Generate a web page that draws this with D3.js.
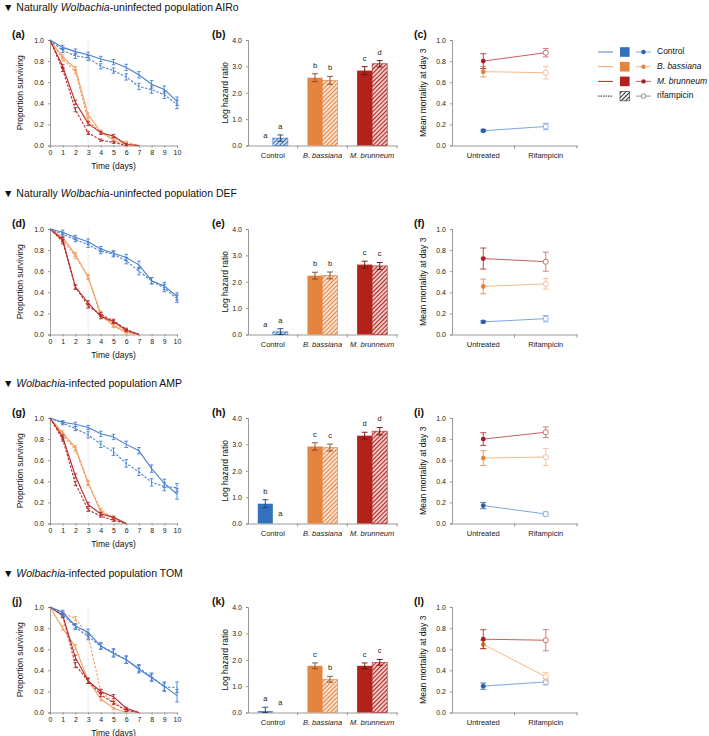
<!DOCTYPE html>
<html>
<head>
<meta charset="utf-8">
<script src="https://cdn.jsdelivr.net/npm/d3@7"></script>
<style>
  body { margin: 0; background: #fff; }
  svg { font-family: "Liberation Sans", Arial, Helvetica, sans-serif; }
</style>
</head>
<body>
<svg id="fig" width="709" height="736"></svg>
<script>
// ---- data ----
var days = [0, 1, 2, 3, 4, 5, 6, 7, 8, 9, 10];
var populations = ["AIRo", "DEF", "AMP", "TOM"];
var titlePrefix = ["Naturally ", "Naturally ", "", ""];
var panelLetters = [["(a)", "(b)", "(c)"], ["(d)", "(e)", "(f)"], ["(g)", "(h)", "(i)"], ["(j)", "(k)", "(l)"]];
var treatments = ["Control", "B. bassiana", "M. brunneum"];
var doses = ["Untreated", "Rifampicin"];
var survTicks = [0, 0.2, 0.4, 0.6, 0.8, 1.0];
var hazardTicks = [0, 1, 2, 3, 4];
var mortTicks = [0, 0.2, 0.4, 0.6, 0.8, 1.0];

// survival curves, order: control, control+rif, Bb, Bb+rif, Mb, Mb+rif
var survAIRo = [
  [1, 0.93, 0.89, 0.86, 0.82, 0.79, 0.74, 0.67, 0.58, 0.53, 0.42],
  [1, 0.90, 0.85, 0.83, 0.75, 0.71, 0.65, 0.56, 0.53, 0.48, 0.39],
  [1, 0.84, 0.73, 0.29, 0.13, 0.05, 0.01, 0],
  [1, 0.82, 0.70, 0.24, 0.12, 0.07, 0.03, 0],
  [1, 0.75, 0.41, 0.21, 0.12, 0.09, 0.01, 0],
  [1, 0.72, 0.34, 0.12, 0.05, 0.03, 0]
];
var errAIRo = [
  [0, 0.02, 0.025, 0.025, 0.025, 0.025, 0.03, 0.03, 0.035, 0.035, 0.04],
  [0, 0.02, 0.025, 0.025, 0.025, 0.025, 0.03, 0.03, 0.035, 0.035, 0.04],
  [0, 0.02, 0.02, 0.02, 0.015, 0.015, 0.01, 0],
  [0, 0.02, 0.02, 0.02, 0.015, 0.015, 0.01, 0],
  [0, 0.02, 0.02, 0.02, 0.015, 0.015, 0.01, 0],
  [0, 0.02, 0.02, 0.015, 0.01, 0.01, 0]
];
var survDEF = [
  [1, 0.97, 0.92, 0.88, 0.81, 0.77, 0.73, 0.66, 0.51, 0.46, 0.36],
  [1, 0.95, 0.90, 0.85, 0.79, 0.76, 0.70, 0.60, 0.51, 0.44, 0.34],
  [1, 0.92, 0.76, 0.54, 0.20, 0.08, 0.02, 0],
  [1, 0.90, 0.74, 0.55, 0.17, 0.09, 0.03, 0],
  [1, 0.90, 0.45, 0.30, 0.17, 0.12, 0.04, 0],
  [1, 0.88, 0.45, 0.27, 0.19, 0.13, 0.05, 0]
];
var errDEF = [
  [0, 0.02, 0.02, 0.025, 0.025, 0.025, 0.03, 0.035, 0.03, 0.035, 0.035],
  [0, 0.02, 0.02, 0.025, 0.025, 0.025, 0.03, 0.035, 0.03, 0.035, 0.035],
  [0, 0.02, 0.02, 0.02, 0.02, 0.015, 0.01, 0],
  [0, 0.02, 0.02, 0.02, 0.02, 0.015, 0.01, 0],
  [0, 0.02, 0.02, 0.02, 0.02, 0.015, 0.01, 0],
  [0, 0.02, 0.02, 0.02, 0.02, 0.015, 0.01, 0]
];
var survAMP = [
  [1, 0.96, 0.94, 0.91, 0.85, 0.82, 0.75, 0.69, 0.52, 0.38, 0.28],
  [1, 0.95, 0.90, 0.84, 0.75, 0.68, 0.57, 0.49, 0.39, 0.35, 0.34],
  [1, 0.86, 0.72, 0.39, 0.11, 0.05, 0],
  [1, 0.84, 0.70, 0.38, 0.13, 0.05, 0],
  [1, 0.82, 0.45, 0.18, 0.09, 0.06, 0],
  [1, 0.80, 0.38, 0.13, 0.07, 0.03, 0]
];
var errAMP = [
  [0, 0.015, 0.02, 0.02, 0.025, 0.025, 0.03, 0.03, 0.035, 0.04, 0.05],
  [0, 0.015, 0.02, 0.03, 0.03, 0.035, 0.035, 0.035, 0.035, 0.04, 0.04],
  [0, 0.02, 0.02, 0.02, 0.015, 0.01, 0],
  [0, 0.02, 0.02, 0.02, 0.015, 0.01, 0],
  [0, 0.02, 0.02, 0.02, 0.015, 0.01, 0],
  [0, 0.02, 0.02, 0.015, 0.01, 0.01, 0]
];
var survTOM = [
  [1, 0.95, 0.82, 0.76, 0.63, 0.56, 0.50, 0.41, 0.33, 0.25, 0.16],
  [1, 0.93, 0.81, 0.72, 0.63, 0.57, 0.50, 0.42, 0.34, 0.24, 0.24],
  [1, 0.80, 0.62, 0.30, 0.13, 0.04, 0],
  [1, 0.94, 0.89, 0.73, 0.20, 0.10, 0.02, 0],
  [1, 0.92, 0.52, 0.30, 0.20, 0.15, 0.04, 0],
  [1, 0.92, 0.45, 0.30, 0.17, 0.09, 0.02, 0]
];
var errTOM = [
  [0, 0.02, 0.025, 0.03, 0.03, 0.035, 0.035, 0.035, 0.035, 0.04, 0.06],
  [0, 0.02, 0.025, 0.03, 0.03, 0.035, 0.035, 0.035, 0.035, 0.04, 0.05],
  [0, 0.02, 0.025, 0.025, 0.02, 0.01, 0],
  [0, 0.02, 0.02, 0.025, 0.02, 0.015, 0.01, 0],
  [0, 0.02, 0.025, 0.025, 0.02, 0.02, 0.01, 0],
  [0, 0.02, 0.025, 0.025, 0.02, 0.015, 0.01, 0]
];

// log hazard ratio [untreated, rifampicin] per treatment
var hazAIRo = [[0, 0.28], [2.57, 2.47], [2.84, 3.10]];
var hazErrAIRo = [[0, 0.12], [0.15, 0.15], [0.15, 0.12]];
var hazLetAIRo = [["a", "a"], ["b", "b"], ["c", "d"]];
var hazDEF = [[0, 0.10], [2.23, 2.24], [2.65, 2.60]];
var hazErrDEF = [[0, 0.12], [0.13, 0.13], [0.13, 0.13]];
var hazLetDEF = [["a", "a"], ["b", "b"], ["c", "c"]];
var hazAMP = [[0.75, 0], [2.92, 2.88], [3.33, 3.50]];
var hazErrAMP = [[0.15, 0], [0.14, 0.13], [0.13, 0.14]];
var hazLetAMP = [["b", "a"], ["c", "c"], ["d", "d"]];
var hazTOM = [[0.05, 0], [1.77, 1.26], [1.77, 1.90]];
var hazErrTOM = [[0.15, 0], [0.11, 0.11], [0.11, 0.11]];
var hazLetTOM = [["a", "a"], ["c", "b"], ["c", "c"]];

// mean mortality at day 3 [untreated, rifampicin] per treatment
var mortAIRo = [[0.14, 0.18], [0.70, 0.69], [0.80, 0.88]];
var mortErrAIRo = [[0.01, 0.03], [0.05, 0.06], [0.07, 0.04]];
var mortDEF = [[0.12, 0.15], [0.455, 0.48], [0.72, 0.69]];
var mortErrDEF = [[0.01, 0.03], [0.07, 0.05], [0.10, 0.09]];
var mortAMP = [[0.17, 0.09], [0.62, 0.63], [0.80, 0.865]];
var mortErrAMP = [[0.03, 0.02], [0.07, 0.08], [0.06, 0.05]];
var mortTOM = [[0.25, 0.29], [0.645, 0.34], [0.695, 0.685]];
var mortErrTOM = [[0.03, 0.03], [0.04, 0.04], [0.09, 0.10]];

var survAll = [survAIRo, survDEF, survAMP, survTOM];
var errAll = [errAIRo, errDEF, errAMP, errTOM];
var hazAll = [hazAIRo, hazDEF, hazAMP, hazTOM];
var hazErrAll = [hazErrAIRo, hazErrDEF, hazErrAMP, hazErrTOM];
var hazLetAll = [hazLetAIRo, hazLetDEF, hazLetAMP, hazLetTOM];
var mortAll = [mortAIRo, mortDEF, mortAMP, mortTOM];
var mortErrAll = [mortErrAIRo, mortErrDEF, mortErrAMP, mortErrTOM];

// ---- styles ----
var FONT = '"Liberation Sans", Arial, Helvetica, sans-serif';
var barColors = ["#3371bf", "#e4843f", "#b3211b"];
var curveColors = ["#4a80d2", "#f2a064", "#b8282a"];
var lineColors = ["#7ea6e2", "#f6b88e", "#cb5f5f"];
var markColors = ["#2c5fab", "#e5823f", "#a91c1c"];
var axisGray = "#808080";

var svg = d3.select("#fig");
var rowStep = 189;
var plotTop = 40, plotBottom = 145.5;
var titleY = [11, 197, 387, 577];

// scales
var xSurv = d3.scaleLinear().domain([0, 10]).range([50, 177]);
var ySurv = d3.scaleLinear().domain([0, 1]).range([plotBottom, plotTop]);
var xBar = d3.scaleBand().domain(treatments).range([248, 397]);
var xBarIn = d3.scaleBand().domain(doses).range([0, xBar.bandwidth()]).paddingOuter(0.65);
var yBar = d3.scaleLinear().domain([0, 4]).range([plotBottom, plotTop]);
var xMort = d3.scaleBand().domain(doses).range([452, 577]);
var yMort = d3.scaleLinear().domain([0, 1]).range([plotBottom, plotTop]);

// hatch patterns
var defs = svg.append("defs");
function addHatch(id, col, bg) {
  var p = defs.append("pattern").attr("id", id)
    .attr("patternUnits", "userSpaceOnUse").attr("width", 3).attr("height", 3)
    .attr("patternTransform", "rotate(45)");
  p.append("rect").attr("width", 3).attr("height", 3).attr("fill", bg);
  p.append("line").attr("x1", 0.5).attr("y1", 0).attr("x2", 0.5).attr("y2", 3)
    .attr("stroke", col).attr("stroke-width", 1.1);
}
barColors.forEach(function(c, i) {
  addHatch("hatch" + i, c, d3.interpolateRgb("#ffffff", c)(0.22));
});
addHatch("hatchK", "#333", "#fff");

function styleAxis(g) {
  g.attr("font-family", FONT).attr("font-size", 7);
  g.selectAll(".domain").attr("stroke", axisGray).attr("stroke-width", 0.8);
  g.selectAll(".tick line").attr("stroke", axisGray).attr("stroke-width", 0.8);
  g.selectAll(".tick text").attr("fill", "#222");
}

function yTitle(g, x, txt) {
  g.append("text")
    .attr("transform", "translate(" + x + "," + ((plotTop + plotBottom) / 2) + ") rotate(-90)")
    .attr("text-anchor", "middle").attr("dominant-baseline", "middle")
    .attr("font-size", 8.5).attr("fill", "#111").text(txt);
}

function errBar(g, x, y0, y1, half, col, w) {
  g.append("line").attr("x1", x).attr("x2", x).attr("y1", y0).attr("y2", y1)
    .attr("stroke", col).attr("stroke-width", w);
  [y0, y1].forEach(function(yy) {
    g.append("line").attr("x1", x - half).attr("x2", x + half).attr("y1", yy).attr("y2", yy)
      .attr("stroke", col).attr("stroke-width", w);
  });
}

populations.forEach(function(pop, r) {
  var row = svg.append("g").attr("transform", "translate(0," + (r * rowStep) + ")");

  // title
  var t = svg.append("text").attr("x", 3).attr("y", titleY[r])
    .attr("font-size", 10.5).attr("fill", "#111");
  t.append("tspan").text("\u25BC " + titlePrefix[r]);
  t.append("tspan").attr("font-style", "italic").text("Wolbachia");
  t.append("tspan").text("-uninfected population " + pop);
  if (r >= 2) t.select("tspan:last-child").text("-infected population " + pop);

  // panel labels
  [12, 212, 414].forEach(function(x, k) {
    row.append("text").attr("x", x).attr("y", plotTop - 2)
      .attr("font-size", 10.5).attr("font-weight", "bold").attr("fill", "#111")
      .text(panelLetters[r][k]);
  });

  // ---- survival panel ----
  var gs = row.append("g");
  gs.append("line").attr("x1", xSurv(3)).attr("x2", xSurv(3))
    .attr("y1", plotTop).attr("y2", plotBottom).attr("stroke", "#e8e8e8").attr("stroke-width", 0.8);
  var ax = gs.append("g").attr("transform", "translate(0," + plotBottom + ")")
    .call(d3.axisBottom(xSurv).tickValues(days).tickFormat(d3.format("d")).tickSize(2).tickPadding(3));
  styleAxis(ax);
  var ay = gs.append("g").attr("transform", "translate(" + xSurv(0) + ",0)")
    .call(d3.axisLeft(ySurv).tickValues(survTicks).tickFormat(d3.format(".1f")).tickSize(2).tickPadding(4));
  styleAxis(ay);
  yTitle(gs, 21, "Proportion surviving");
  gs.append("text").attr("x", (xSurv(0) + xSurv(10)) / 2).attr("y", plotBottom + 23)
    .attr("text-anchor", "middle").attr("font-size", 8.5).attr("fill", "#111").text("Time (days)");

  var line = d3.line().x(function(d, i) { return xSurv(days[i]); }).y(function(d) { return ySurv(d); });
  // draw pathogens first, control on top
  [2, 3, 4, 5, 0, 1].forEach(function(s) {
    var col = curveColors[Math.floor(s / 2)];
    var vals = survAll[r][s], errs = errAll[r][s];
    gs.append("path").attr("d", line(vals)).attr("fill", "none")
      .attr("stroke", col).attr("stroke-width", 1.1)
      .attr("stroke-dasharray", s % 2 ? "2.5,1.5" : null);
    vals.forEach(function(v, i) {
      if (errs[i] > 0) errBar(gs, xSurv(days[i]), ySurv(v - errs[i]), ySurv(v + errs[i]), 1.8, col, 0.9);
    });
  });

  // ---- hazard bar panel ----
  var gb = row.append("g");
  var axb = gb.append("g").attr("transform", "translate(0," + plotBottom + ")")
    .call(d3.axisBottom(xBar).tickSize(0).tickPadding(7));
  styleAxis(axb);
  axb.selectAll(".tick text").attr("font-size", 7.5)
    .attr("font-style", function(d) { return d === "Control" ? "normal" : "italic"; });
  treatments.slice(1).concat([null]).forEach(function(d) {
    var x = d ? xBar(d) : xBar.range()[1];
    axb.append("line").attr("x1", x).attr("x2", x).attr("y1", 0).attr("y2", 3)
      .attr("stroke", axisGray).attr("stroke-width", 0.8);
  });
  var ayb = gb.append("g").attr("transform", "translate(" + xBar.range()[0] + ",0)")
    .call(d3.axisLeft(yBar).tickValues(hazardTicks).tickFormat(d3.format(".1f")).tickSize(2).tickPadding(4));
  styleAxis(ayb);
  yTitle(gb, 226, "Log hazard ratio");

  treatments.forEach(function(tr, ti) {
    doses.forEach(function(ds, di) {
      var v = hazAll[r][ti][di], e = hazErrAll[r][ti][di];
      var x0 = xBar(tr) + xBarIn(ds), bw = xBarIn.bandwidth();
      if (v > 0) {
        gb.append("rect").attr("x", x0).attr("width", bw)
          .attr("y", yBar(v)).attr("height", yBar(0) - yBar(v))
          .attr("fill", di === 0 ? barColors[ti] : "url(#hatch" + ti + ")")
          .attr("stroke", di === 0 ? "none" : barColors[ti]).attr("stroke-width", 0.6);
      }
      if (e > 0) {
        errBar(gb, x0 + bw / 2, yBar(Math.max(0, v - e)), yBar(v + e), 3,
          d3.color(barColors[ti]).darker(1.6), 0.9);
      }
      var top = Math.min(yBar(v + e) - 6, yBar(0) - 8);
      gb.append("text").attr("x", x0 + bw / 2).attr("y", top)
        .attr("text-anchor", "middle").attr("font-size", 7.5).attr("fill", "#222")
        .text(hazLetAll[r][ti][di]);
    });
  });

  // ---- mortality panel ----
  var gm = row.append("g");
  var axm = gm.append("g").attr("transform", "translate(0," + plotBottom + ")")
    .call(d3.axisBottom(xMort).tickSize(0).tickPadding(7));
  styleAxis(axm);
  axm.selectAll(".tick text").attr("font-size", 7.5);
  [xMort(doses[1]), xMort.range()[1]].forEach(function(x) {
    axm.append("line").attr("x1", x).attr("x2", x).attr("y1", 0).attr("y2", 3)
      .attr("stroke", axisGray).attr("stroke-width", 0.8);
  });
  var aym = gm.append("g").attr("transform", "translate(" + xMort.range()[0] + ",0)")
    .call(d3.axisLeft(yMort).tickValues(mortTicks).tickFormat(d3.format(".1f")).tickSize(2).tickPadding(4));
  styleAxis(aym);
  yTitle(gm, 424, "Mean mortality at day 3");

  var cx = function(ds) { return xMort(ds) + xMort.bandwidth() / 2; };
  treatments.forEach(function(tr, ti) {
    var vals = mortAll[r][ti], errs = mortErrAll[r][ti];
    gm.append("line").attr("x1", cx(doses[0])).attr("x2", cx(doses[1]))
      .attr("y1", yMort(vals[0])).attr("y2", yMort(vals[1]))
      .attr("stroke", lineColors[ti]).attr("stroke-width", 1);
    doses.forEach(function(ds, di) {
      errBar(gm, cx(ds), yMort(vals[di] - errs[di]), yMort(vals[di] + errs[di]), 3,
        di === 0 ? markColors[ti] : lineColors[ti], 0.8);
    });
    gm.append("circle").attr("cx", cx(doses[0])).attr("cy", yMort(vals[0])).attr("r", 2.4)
      .attr("fill", markColors[ti]);
    gm.append("circle").attr("cx", cx(doses[1])).attr("cy", yMort(vals[1])).attr("r", 2.6)
      .attr("fill", "#fff").attr("stroke", lineColors[ti]).attr("stroke-width", 0.9);
  });
});

// ---- legend ----
var legendLabels = ["Control", "B. bassiana", "M. brunneum", "rifampicin"];
var leg = svg.append("g");
legendLabels.forEach(function(lab, i) {
  var y = 52 + i * 14.7;
  var rif = i === 3;
  leg.append("line").attr("x1", 598).attr("x2", 613).attr("y1", y).attr("y2", y)
    .attr("stroke", rif ? "#222" : curveColors[i]).attr("stroke-width", 1)
    .attr("stroke-dasharray", rif ? "1.5,1" : null);
  leg.append("rect").attr("x", 620).attr("y", y - 4.8).attr("width", 9.6).attr("height", 9.6)
    .attr("fill", rif ? "url(#hatchK)" : barColors[i])
    .attr("stroke", rif ? "#333" : "none").attr("stroke-width", 0.6);
  leg.append("line").attr("x1", 636).attr("x2", 651).attr("y1", y).attr("y2", y)
    .attr("stroke", rif ? "#999" : lineColors[i]).attr("stroke-width", 1);
  leg.append("circle").attr("cx", 643.5).attr("cy", y).attr("r", rif ? 2.4 : 2.2)
    .attr("fill", rif ? "#fff" : markColors[i])
    .attr("stroke", rif ? "#777" : "none").attr("stroke-width", 0.8);
  leg.append("text").attr("x", 657).attr("y", y).attr("dominant-baseline", "middle")
    .attr("font-size", 8.5).attr("fill", "#111")
    .attr("font-style", i === 1 || i === 2 ? "italic" : "normal").text(lab);
});
</script>
</body>
</html>
